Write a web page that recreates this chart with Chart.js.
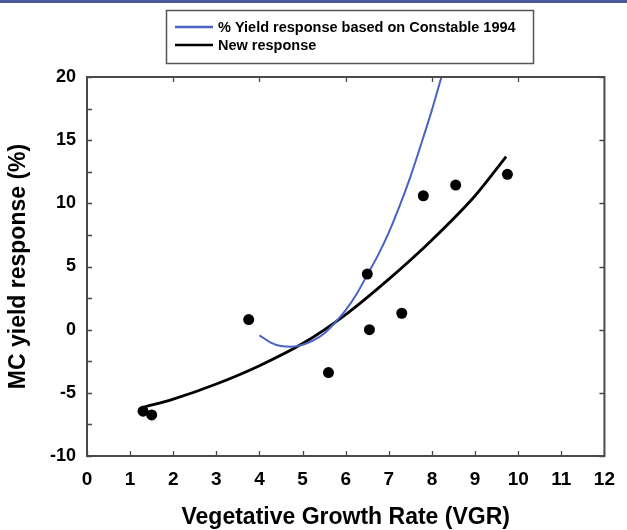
<!DOCTYPE html>
<html>
<head>
<meta charset="utf-8">
<script src="https://cdn.jsdelivr.net/npm/chart.js@4.4.1/dist/chart.umd.min.js"></script>
<style>
  html, body { margin: 0; padding: 0; background: #fff; }
  #wrap { width: 627px; height: 530px; }
</style>
</head>
<body>
<div id="wrap"><canvas id="c" width="627" height="530"></canvas></div>
<script>
// ---- Data ----
const xTickValues = [0, 1, 2, 3, 4, 5, 6, 7, 8, 9, 10, 11, 12];
const xTopTickValues = [2, 4, 6, 8, 10];
const yTickValues = [-10, -5, 0, 5, 10, 15, 20];
const yMinorTickValues = [-7.5, -2.5, 2.5, 7.5, 12.5, 17.5];

const obsX = [1.3, 1.5, 3.75, 5.6, 6.5, 6.55, 7.3, 7.8, 8.55, 9.75];
const obsY = [-6.45, -6.75, 0.8, -3.4, 4.4, 0.0, 1.3, 10.6, 11.45, 12.3];

const constableX = [4.0, 4.25, 4.5, 4.75, 5.0, 5.25, 5.5, 5.75, 6.0, 6.25, 6.5, 6.75, 7.0, 7.25, 7.5, 7.75, 8.0, 8.22];
const constableY = [-0.45, -1.0, -1.3, -1.35, -1.2, -0.85, -0.3, 0.55, 1.55, 2.8, 4.35, 5.9, 7.7, 9.8, 12.1, 14.7, 17.4, 20.0];

const newX = [1.3, 2, 3, 4, 5, 6, 7, 8, 9, 9.72];
const newY = [-6.15, -5.5, -4.3, -2.85, -1.1, 1.2, 4.0, 7.1, 10.6, 13.7];

const seriesLabels = ['% Yield response based on Constable 1994', 'New response'];
const xTitle = 'Vegetative Growth Rate (VGR)';
const yTitle = 'MC yield response (%)';

// ---- Build ----
const toPts = (xs, ys) => xs.map((x, i) => ({ x: x, y: ys[i] }));
const FONT = 'Arial, "Liberation Sans", Helvetica, sans-serif';
Chart.defaults.font.family = FONT;
Chart.defaults.color = '#000';

const BLUE = '#4a62c2';

const decorPlugin = {
  id: 'decor',
  beforeDraw(chart) {
    const ctx = chart.ctx;
    ctx.save();
    ctx.fillStyle = '#ffffff';
    ctx.fillRect(0, 0, chart.width, chart.height);
    ctx.fillStyle = '#4b5a9c';
    ctx.fillRect(0, 0, chart.width, 3);
    ctx.restore();
  },
  afterDraw(chart) {
    const ctx = chart.ctx;
    const a = chart.chartArea;
    const xs = chart.scales.x, ys = chart.scales.y;
    ctx.save();
    // frame
    ctx.strokeStyle = '#4a4a4a';
    ctx.lineWidth = 2;
    ctx.strokeRect(a.left, a.top, a.right - a.left, a.bottom - a.top);
    // inward ticks
    ctx.lineWidth = 1.3;
    ctx.beginPath();
    const TL = 5;
    xTickValues.forEach(v => { const p = Math.round(xs.getPixelForValue(v)) + 0.5; ctx.moveTo(p, a.bottom); ctx.lineTo(p, a.bottom - TL); });
    xTopTickValues.forEach(v => { const p = Math.round(xs.getPixelForValue(v)) + 0.5; ctx.moveTo(p, a.top); ctx.lineTo(p, a.top + TL); });
    yTickValues.concat(yMinorTickValues).forEach(v => { const p = Math.round(ys.getPixelForValue(v)) + 0.5; ctx.moveTo(a.left, p); ctx.lineTo(a.left + TL, p); });
    yTickValues.forEach(v => { const p = Math.round(ys.getPixelForValue(v)) + 0.5; ctx.moveTo(a.right, p); ctx.lineTo(a.right - TL, p); });
    ctx.stroke();

    // legend box
    const bx = 166, by = 10, bw = 367, bh = 53;
    ctx.lineWidth = 1.5;
    ctx.strokeStyle = '#555';
    ctx.strokeRect(bx + 0.5, by + 0.5, bw, bh);
    const items = [
      { label: chart.data.datasets[1].label, color: chart.data.datasets[1].borderColor, y: 27 },
      { label: chart.data.datasets[2].label, color: chart.data.datasets[2].borderColor, y: 45 }
    ];
    ctx.font = 'bold 14.5px ' + FONT;
    ctx.textBaseline = 'middle';
    ctx.textAlign = 'left';
    items.forEach(it => {
      ctx.strokeStyle = it.color;
      ctx.lineWidth = 2.5;
      ctx.beginPath();
      ctx.moveTo(175, it.y);
      ctx.lineTo(213, it.y);
      ctx.stroke();
      ctx.fillStyle = '#000';
      ctx.fillText(it.label, 218, it.y + 1);
    });
    ctx.restore();
  }
};

new Chart(document.getElementById('c'), {
  type: 'scatter',
  data: {
    datasets: [
      {
        label: 'Observed',
        data: toPts(obsX, obsY),
        pointRadius: 5.5,
        pointHoverRadius: 5.5,
        pointBackgroundColor: '#000',
        pointBorderColor: '#000',
        borderWidth: 0,
        showLine: false
      },
      {
        label: seriesLabels[0],
        data: toPts(constableX, constableY),
        showLine: true,
        borderColor: BLUE,
        borderWidth: 2,
        pointRadius: 0,
        cubicInterpolationMode: 'monotone',
        fill: false
      },
      {
        label: seriesLabels[1],
        data: toPts(newX, newY),
        showLine: true,
        borderColor: '#000',
        borderWidth: 2.8,
        pointRadius: 0,
        cubicInterpolationMode: 'monotone',
        fill: false
      }
    ]
  },
  options: {
    responsive: false,
    animation: false,
    devicePixelRatio: 1,
    layout: { padding: { left: 0, right: 15, top: 77, bottom: 0 } },
    plugins: {
      legend: { display: false },
      tooltip: { enabled: false }
    },
    scales: {
      x: {
        type: 'linear',
        min: 0, max: 12,
        afterBuildTicks: s => { s.ticks = xTickValues.map(v => ({ value: v })); },
        afterFit: s => { s.height = 74; },
        grid: { display: false, drawTicks: false },
        border: { display: false },
        ticks: { font: { size: 19, weight: 'bold' }, color: '#000', padding: 12, maxRotation: 0, autoSkip: false },
        title: { display: true, text: xTitle, font: { size: 23, weight: 'bold', lineHeight: 1 }, color: '#000', padding: { top: 0, bottom: 1 } }
      },
      y: {
        type: 'linear',
        min: -10, max: 20,
        afterBuildTicks: s => { s.ticks = yTickValues.map(v => ({ value: v })); },
        afterFit: s => { s.width = 87; },
        grid: { display: false, drawTicks: false },
        border: { display: false },
        ticks: { font: { size: 18, weight: 'bold' }, color: '#000', padding: 11, autoSkip: false },
        title: { display: true, text: yTitle, font: { size: 23, weight: 'bold', lineHeight: 1 }, color: '#000', padding: { top: 7, bottom: 0 } }
      }
    }
  },
  plugins: [decorPlugin]
});
</script>
</body>
</html>
